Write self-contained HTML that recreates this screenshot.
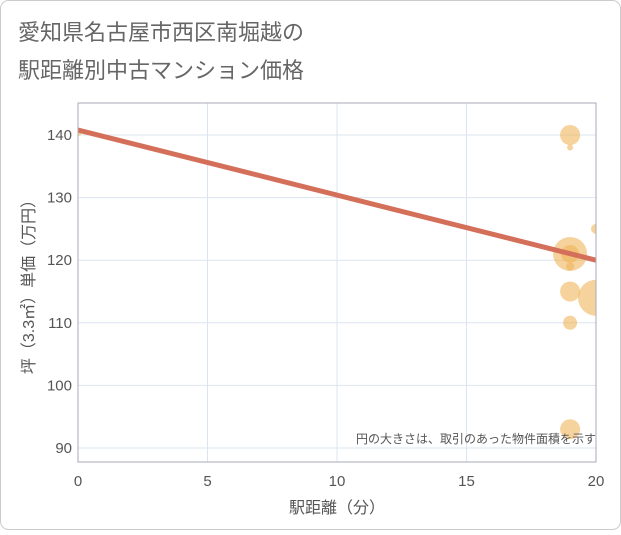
<!DOCTYPE html>
<html><head><meta charset="utf-8"><style>
body{margin:0;background:#fff;font-family:"Liberation Sans","Noto Sans CJK JP",sans-serif}
</style></head><body>
<svg width="621" height="530" xmlns="http://www.w3.org/2000/svg">
<defs><clipPath id="pc"><rect x="78" y="103" width="518" height="359"/></clipPath></defs>
<rect x="0.5" y="0.5" width="620" height="529" rx="8" fill="#fff" stroke="#ccc"/>
<text x="18" y="40" font-size="22" fill="#666" font-family="Liberation Sans,Noto Sans CJK JP,sans-serif">愛知県名古屋市西区南堀越の</text>
<text x="18" y="78" font-size="22" fill="#666" font-family="Liberation Sans,Noto Sans CJK JP,sans-serif">駅距離別中古マンション価格</text>
<g id="grid"></g><g id="bubbles" clip-path="url(#pc)"></g><g id="trend" clip-path="url(#pc)"></g><g id="axes"></g>
<text x="596" y="443" font-size="12" fill="#555" text-anchor="end" font-family="Liberation Sans,Noto Sans CJK JP,sans-serif">円の大きさは、取引のあった物件面積を示す</text>
<text x="337" y="513" font-size="16" fill="#555" text-anchor="middle" font-family="Liberation Sans,Noto Sans CJK JP,sans-serif">駅距離（分）</text>
<text transform="translate(34,283) rotate(-90)" font-size="16" fill="#555" text-anchor="middle" font-family="Liberation Sans,Noto Sans CJK JP,sans-serif">坪（3.3㎡）単価（万円）</text>
</svg>
<script>
const xTicks=[0,5,10,15,20];
const yTicks=[90,100,110,120,130,140];
const bx=[19,19,19,19,19,20,19,20,19,19,0];
const by=[140,138,121,121,119,125,115,114,110,93,140.5];
const bs=[10,3,17,9,4,5,10,18,7,10,4];
const trendX=[0,20];
const trendY=[140.8,120];
const L=78,R=596,T=103,B=462;
const X=v=>L+(R-L)*v/20;
const Y=v=>135+(140-v)*6.26;
const NS="http://www.w3.org/2000/svg";
function mk(tag,attrs,parent){const e=document.createElementNS(NS,tag);for(const k in attrs)e.setAttribute(k,attrs[k]);document.getElementById(parent).appendChild(e);return e;}
xTicks.forEach(t=>{
 const l=mk('line',{x1:X(t),x2:X(t),y1:T,y2:B,stroke:'#dbe5ef'},'grid');
 
 
 const tx=mk('text',{x:X(t),y:486,'font-size':15,fill:'#555','text-anchor':'middle'},'axes');
 tx.textContent=t;
 
 
});
yTicks.forEach(t=>{
 const l=mk('line',{x1:L,x2:R,y1:Y(t),y2:Y(t),stroke:'#dbe5ef'},'grid');
 
 
 const tx=mk('text',{x:72,y:Y(t)+5,'font-size':15,fill:'#555','text-anchor':'end'},'axes');
 tx.textContent=t;
 
 
});
const box=mk('rect',{x:L,y:T,width:R-L,height:B-T,fill:'none',stroke:'#aab'},'axes');


bx.forEach((v,i)=>{
 const c=mk('circle',{cx:X(v),cy:Y(by[i]),r:bs[i],fill:'rgba(240,180,90,0.6)'},'bubbles');
 
 
});
const tl=mk('line',{x1:X(trendX[0]),y1:Y(trendY[0]),x2:X(trendX[1]),y2:Y(trendY[1]),stroke:'#d4705a','stroke-width':5},'trend');


</script>
</body></html>
